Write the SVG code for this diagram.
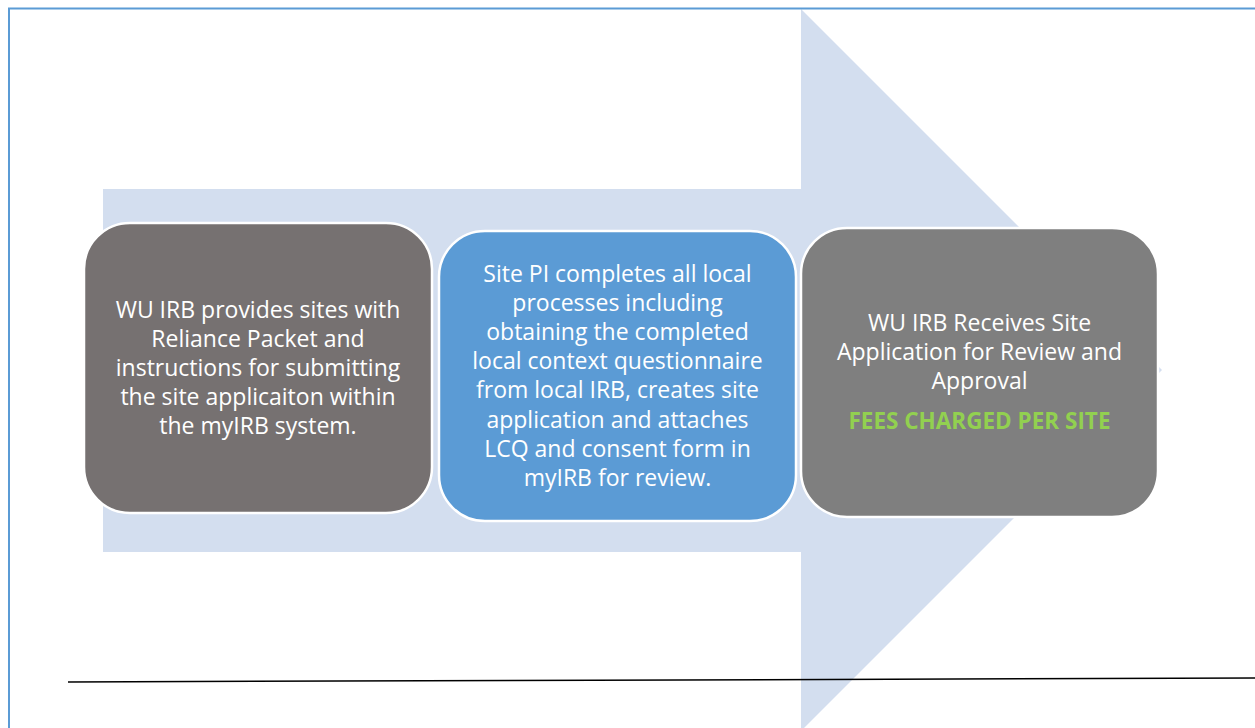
<svg xmlns="http://www.w3.org/2000/svg" width="1255" height="728" viewBox="0 0 1255 728">
  <style>
    .box { stroke: #ffffff; stroke-width: 2.5; }
    .t { font-family: "Open Sans", "Noto Sans", "Liberation Sans", sans-serif; font-size: 23px; fill: #ffffff; text-anchor: middle; }
    .fee { font-family: "Open Sans", "Noto Sans", "Liberation Sans", sans-serif; font-size: 22.5px; font-weight: bold; fill: #92d050; text-anchor: middle; }
  </style>
  <rect x="0" y="0" width="1255" height="728" fill="#ffffff"/>
  <g id="background-arrow">
    <polygon points="103,189 801,189 801,9 1162,370 801,731 801,552 103,552" fill="#d3deef"/>
  </g>
  <g id="frame">
    <path d="M9,728 V8.5 H1255" fill="none" stroke="#5b9bd5" stroke-width="2"/>
    <line x1="68" y1="682" x2="1255" y2="678" stroke="#000000" stroke-width="1.5"/>
  </g>
  <g id="connectors"></g>
  <g id="node-1">
    <rect class="box" x="84" y="223" width="348" height="290" rx="46" ry="46" fill="#767171"/>
    <text class="t" x="258" y="317.5">WU IRB provides sites with</text>
    <text class="t" x="258" y="346.7">Reliance Packet and</text>
    <text class="t" x="258" y="375.9">instructions for submitting</text>
    <text class="t" x="258" y="405.1">the site applicaiton within</text>
    <text class="t" x="258" y="434.3">the myIRB system.</text>
  </g>
  <g id="node-2">
    <rect class="box" x="439" y="231" width="357" height="290" rx="46" ry="46" fill="#5b9bd5"/>
    <text class="t" x="617.5" y="281.5">Site PI completes all local</text>
    <text class="t" x="617.5" y="310.7">processes including</text>
    <text class="t" x="617.5" y="339.9">obtaining the completed</text>
    <text class="t" x="617.5" y="369.1">local context questionnaire</text>
    <text class="t" x="617.5" y="398.3">from local IRB, creates site</text>
    <text class="t" x="617.5" y="427.5">application and attaches</text>
    <text class="t" x="617.5" y="456.7">LCQ and consent form in</text>
    <text class="t" x="617.5" y="485.9">myIRB for review.</text>
  </g>
  <g id="node-3">
    <rect class="box" x="801" y="228" width="357" height="289" rx="46" ry="46" fill="#7f7f7f"/>
    <text class="t" x="979.5" y="330.7">WU IRB Receives Site</text>
    <text class="t" x="979.5" y="359.9">Application for Review and</text>
    <text class="t" x="979.5" y="389.1">Approval</text>
    <text class="fee" x="979.5" y="429">FEES CHARGED PER SITE</text>
  </g>
</svg>
